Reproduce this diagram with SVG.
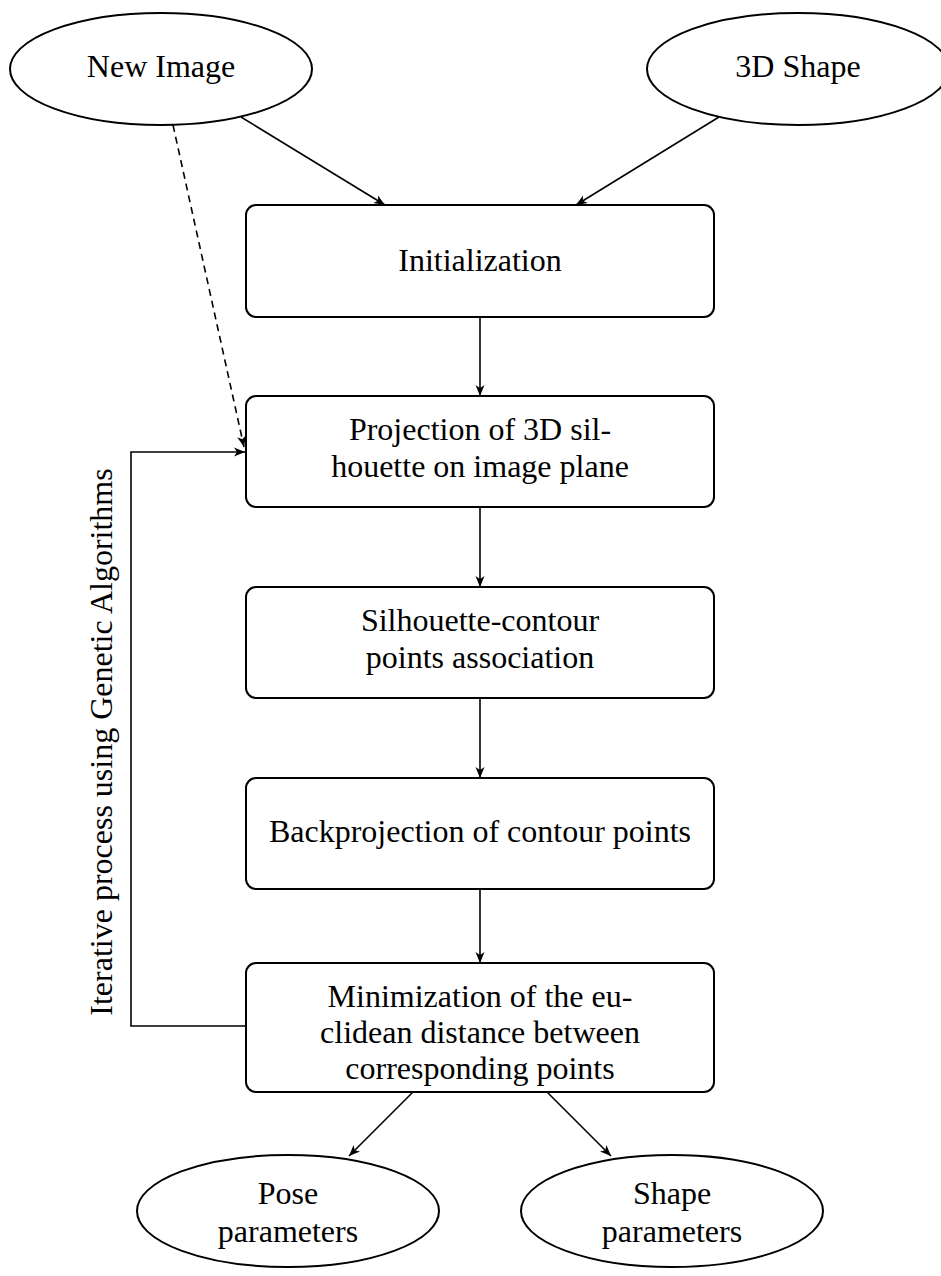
<svg xmlns="http://www.w3.org/2000/svg" width="941" height="1276" viewBox="0 0 941 1276">
<style>
text{font-family:'Liberation Serif','Times New Roman',Times,'DejaVu Serif',serif;font-size:32px;fill:#000;text-anchor:middle}
.n{fill:#fff;stroke:#000;stroke-width:2}
.c{fill:none;stroke:#000;stroke-width:1.6}
.d{stroke-dasharray:7 5}
</style>
<defs>
<marker id="ah" markerUnits="userSpaceOnUse" markerWidth="14" markerHeight="12" viewBox="-12 -6 14 12" refX="0" refY="0" orient="auto">
<path d="M0,0 L-11,-4.5 L-8,0 L-11,4.5 Z" fill="#000"/>
</marker>
</defs>
<rect width="941" height="1276" fill="#fff"/>
<g id="connectors">
<line class="c" x1="241" y1="117" x2="385" y2="205" marker-end="url(#ah)"/>
<line class="c" x1="719" y1="117" x2="576" y2="205" marker-end="url(#ah)"/>
<line class="c d" x1="173" y1="125" x2="244" y2="447" marker-end="url(#ah)"/>
<line class="c" x1="480" y1="317" x2="480" y2="396" marker-end="url(#ah)"/>
<line class="c" x1="480" y1="507" x2="480" y2="587" marker-end="url(#ah)"/>
<line class="c" x1="480" y1="698" x2="480" y2="778" marker-end="url(#ah)"/>
<line class="c" x1="480" y1="889" x2="480" y2="963" marker-end="url(#ah)"/>
<polyline class="c" points="246,1026 131,1026 131,452 245,452" marker-end="url(#ah)"/>
<line class="c" x1="413" y1="1092" x2="349" y2="1156" marker-end="url(#ah)"/>
<line class="c" x1="547" y1="1092" x2="611" y2="1156" marker-end="url(#ah)"/>
<text font-family="Liberation Serif, serif" transform="translate(112,742) rotate(-90)">Iterative process using Genetic Algorithms</text>
</g>
<g id="new-image">
<ellipse class="n" cx="161" cy="69" rx="151" ry="56"/>
<text font-family="Liberation Serif, serif" x="161" y="77">New Image</text>
</g>
<g id="shape-3d">
<ellipse class="n" cx="798" cy="69" rx="151" ry="56"/>
<text font-family="Liberation Serif, serif" x="798" y="77">3D Shape</text>
</g>
<g id="initialization">
<rect class="n" x="246" y="205" width="468" height="112" rx="10"/>
<text font-family="Liberation Serif, serif" x="480" y="271">Initialization</text>
</g>
<g id="projection">
<rect class="n" x="246" y="396" width="468" height="111" rx="10"/>
<text font-family="Liberation Serif, serif" x="480" y="440">Projection of 3D sil-</text>
<text font-family="Liberation Serif, serif" x="480" y="477">houette on image plane</text>
</g>
<g id="association">
<rect class="n" x="246" y="587" width="468" height="111" rx="10"/>
<text font-family="Liberation Serif, serif" x="480" y="631">Silhouette-contour</text>
<text font-family="Liberation Serif, serif" x="480" y="668">points association</text>
</g>
<g id="backprojection">
<rect class="n" x="246" y="778" width="468" height="111" rx="10"/>
<text font-family="Liberation Serif, serif" x="480" y="842">Backprojection of contour points</text>
</g>
<g id="minimization">
<rect class="n" x="246" y="963" width="468" height="129" rx="10"/>
<text font-family="Liberation Serif, serif" x="480" y="1007">Minimization of the eu-</text>
<text font-family="Liberation Serif, serif" x="480" y="1043">clidean distance between</text>
<text font-family="Liberation Serif, serif" x="480" y="1079">corresponding points</text>
</g>
<g id="pose">
<ellipse class="n" cx="288" cy="1211" rx="151" ry="56"/>
<text font-family="Liberation Serif, serif" x="288" y="1204">Pose</text>
<text font-family="Liberation Serif, serif" x="288" y="1242">parameters</text>
</g>
<g id="shape-params">
<ellipse class="n" cx="672" cy="1211" rx="151" ry="56"/>
<text font-family="Liberation Serif, serif" x="672" y="1204">Shape</text>
<text font-family="Liberation Serif, serif" x="672" y="1242">parameters</text>
</g>
</svg>
